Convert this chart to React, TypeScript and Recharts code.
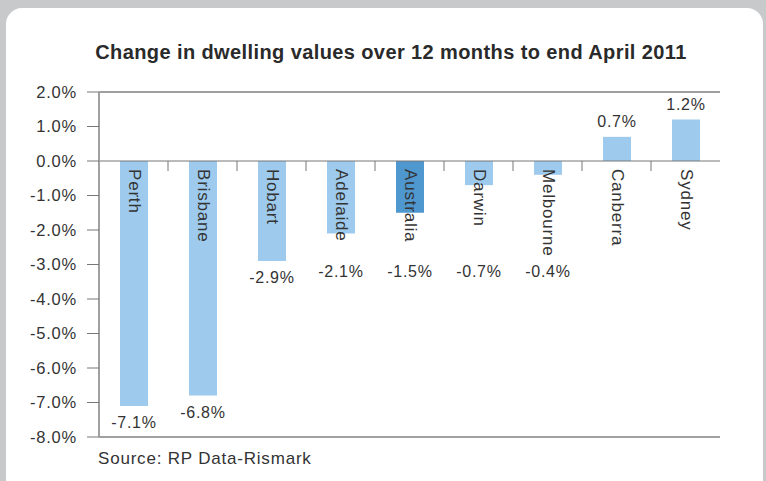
import React from 'react';
import { BarChart, Bar, XAxis, YAxis, ReferenceLine, LabelList, Cell } from 'recharts';

const cities = ['Perth', 'Brisbane', 'Hobart', 'Adelaide', 'Australia', 'Darwin', 'Melbourne', 'Canberra', 'Sydney'];
const change = [-7.1, -6.8, -2.9, -2.1, -1.5, -0.7, -0.4, 0.7, 1.2];
const yTicks = [-8, -7, -6, -5, -4, -3, -2, -1, 0, 1, 2];
const highlight = 'Australia';

const data = cities.map((city, i) => ({ city, value: change[i] }));

const FONT = '"Liberation Sans", Arial, Helvetica, sans-serif';
const TEXT = '#333333';
const AXIS = '#a0a0a0';
const LIGHT = '#9ecbed';
const DARK = '#4f97cf';

const pct = (v: number) => `${v.toFixed(1)}%`;

function ZeroAxis(props: any) {
  const { x1, x2, y1 } = props;
  if (x1 == null) return null;
  const step = (x2 - x1) / cities.length;
  return (
    <g>
      <line x1={x1} x2={x2} y1={y1} y2={y1} stroke="#777" strokeWidth={1} />
      {cities.slice(1).map((c, i) => (
        <line key={c} x1={x1 + step * (i + 1)} x2={x1 + step * (i + 1)} y1={y1} y2={y1 + 10} stroke="#777" strokeWidth={1} />
      ))}
    </g>
  );
}

function CityLabel(props: any) {
  const { x, y, width, height, value, index } = props;
  const zeroY = value < 0 ? Math.min(y, y + height) : Math.max(y, y + height);
  const cx = x + width / 2;
  const ty = zeroY + 8;
  return (
    <text x={cx} y={ty} transform={`rotate(90, ${cx}, ${ty})`} textAnchor="start" dominantBaseline="central"
      fontSize={17} letterSpacing={0.8} fill={TEXT} fontFamily={FONT}>
      {cities[index]}
    </text>
  );
}

function ValueLabel(props: any) {
  const { x, y, width, height, value } = props;
  const top = Math.min(y, y + height);
  const bottom = Math.max(y, y + height);
  const cx = x + width / 2;
  // negative labels sit below the bar, but never higher than a common row under the city names
  const ty = value < 0 ? Math.max(bottom + 22, top + 116) : top - 10;
  return (
    <text x={cx} y={ty} textAnchor="middle" fontSize={16} letterSpacing={0.7} fill={TEXT} fontFamily={FONT}>
      {pct(value)}
    </text>
  );
}

export default function App() {
  return (
    <div style={{ position: 'absolute', left: 0, top: 0, width: 766, height: 481, background: '#c8c9cb', overflow: 'hidden' }}>
      <div style={{ position: 'absolute', left: 6, top: 8, width: 757, height: 500, background: '#ffffff', borderRadius: 16 }} />
      <div style={{ position: 'absolute', left: 0, top: 41, width: 782, textAlign: 'center', fontFamily: FONT, fontSize: 20, fontWeight: 'bold', letterSpacing: 0.4, color: '#2a2a2a' }}>
        Change in dwelling values over 12 months to end April 2011
      </div>
      <div style={{ position: 'absolute', left: 98, top: 449, fontFamily: FONT, fontSize: 17, letterSpacing: 0.8, color: TEXT }}>
        Source: RP Data-Rismark
      </div>
      <div style={{ position: 'absolute', left: 0, top: 0 }}>
        <BarChart width={766} height={481} data={data} margin={{ top: 92, right: 46, left: 0, bottom: 44 }} barSize={28}>
          <XAxis dataKey="city" hide height={0} />
          <YAxis yAxisId="left" domain={[-8, 2]} ticks={yTicks} type="number" width={99} tickSize={12} tickMargin={10}
            tickFormatter={pct} axisLine={{ stroke: AXIS, strokeWidth: 2 }} tickLine={{ stroke: '#777' }}
            tick={{ fontSize: 16.5, fill: TEXT, fontFamily: FONT, letterSpacing: 0.8 }} interval={0} allowDataOverflow />
          <YAxis yAxisId="right" orientation="right" domain={[-8, 2]} type="number" width={0} tick={false} tickLine={false}
            axisLine={{ stroke: AXIS, strokeWidth: 2 }} />
          <ReferenceLine yAxisId="left" y={2} stroke={AXIS} strokeWidth={2} />
          <ReferenceLine yAxisId="left" y={-8} stroke={AXIS} strokeWidth={2} />
          <Bar yAxisId="left" dataKey="value" isAnimationActive={false}>
            {data.map((d) => (
              <Cell key={d.city} fill={d.city === highlight ? DARK : LIGHT} />
            ))}
            <LabelList dataKey="value" content={<CityLabel />} />
            <LabelList dataKey="value" content={<ValueLabel />} />
          </Bar>
          <ReferenceLine yAxisId="left" y={0} shape={<ZeroAxis />} />
        </BarChart>
      </div>
    </div>
  );
}
